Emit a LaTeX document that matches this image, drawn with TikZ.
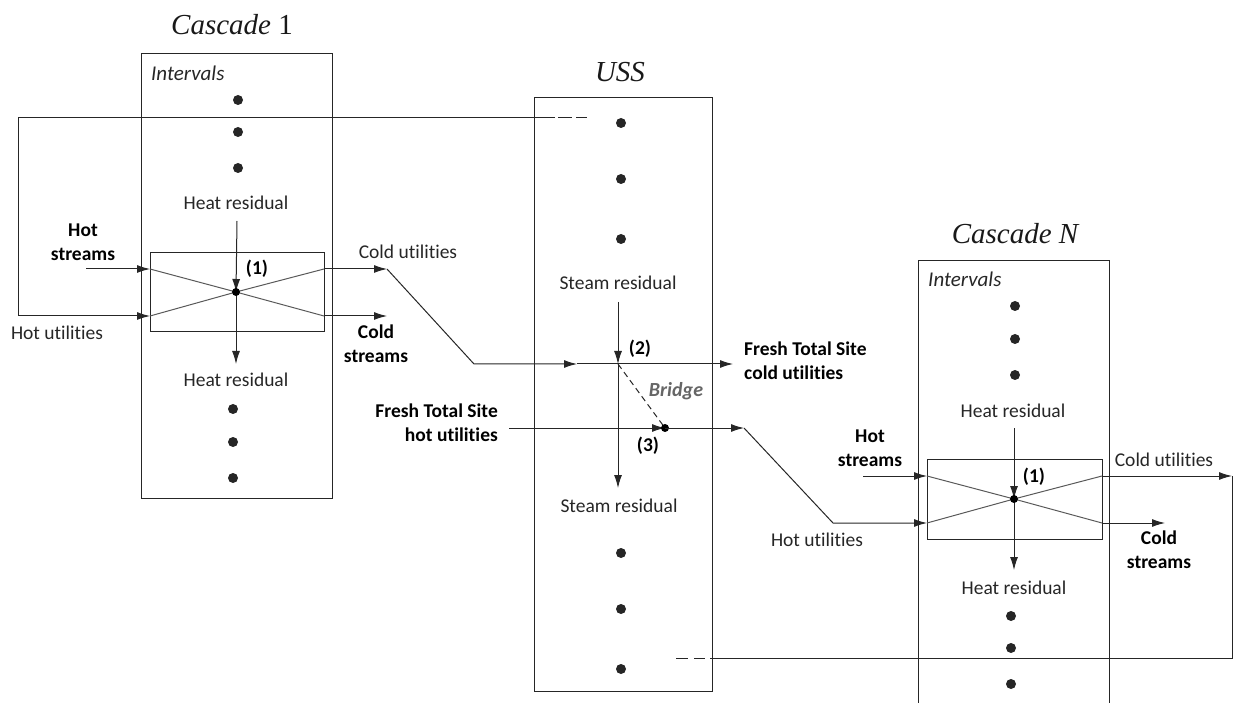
\documentclass[tikz,border=0pt]{standalone}
\usepackage{fontspec}
\setmainfont[Ligatures={NoCommon}]{Carlito}
\newfontfamily\tnr{Liberation Serif}
\usetikzlibrary{arrows.meta}
\begin{document}
\begin{tikzpicture}[x=1pt,y=-1pt,
  line/.style={draw=black!85, line width=1pt},
  diag/.style={draw=black!65, line width=1pt},
  arr/.style={line, -{Latex[length=13pt,width=8pt]}},
  lbl/.style={inner sep=0pt, text=black!85, font=\fontsize{19.5}{24}\selectfont},
  blbl/.style={inner sep=0pt, text=black, align=center, font=\fontsize{19.5}{24}\selectfont\bfseries},
  ilbl/.style={inner sep=0pt, text=black!85, font=\fontsize{21}{24}\selectfont\itshape},
  ttl/.style={inner sep=0pt, text=black!90, font=\fontsize{29}{32}\selectfont\tnr},
  dot/.style={fill=black!85},
  dsh/.style={line, dash pattern=on 0pt off 3pt on 14pt off 4pt on 11pt off 20pt}
]
\useasboundingbox (0,0) rectangle (1235,703);

% ---------- Cascade 1 ----------
\node[ttl] (t1) at (232,25) {\itshape Cascade\/ \upshape 1};
\draw[line] (141,54) rectangle (332,498);
\draw[line] (150,253) rectangle (324,332);
\node[ilbl, anchor=west] (iv1) at (151,73) {Intervals};
\foreach \y in {100,132,168} \fill[dot] (238,\y) circle (5pt);
\foreach \y in {409,442,478} \fill[dot] (233,\y) circle (5pt);
\node[lbl] (hr1a) at (236,203) {Heat residual};
\node[lbl] (hr1b) at (236,380) {Heat residual};
\coordinate (c1) at (236,292);
\coordinate (c1tl) at (150,269);
\coordinate (c1bl) at (150,316);
\coordinate (c1tr) at (324,269);
\coordinate (c1br) at (324,316);
\draw[diag] (c1tl) -- (c1) -- (c1br);
\draw[diag] (c1bl) -- (c1) -- (c1tr);
\coordinate (hr1top) at (237,221);
\coordinate (hr1bot) at (236,364);
\draw[arr] (hr1top) -- (c1);
\draw[arr] (c1) -- (hr1bot);
\fill[black] (c1) circle (4pt);
\node[blbl] (one1) at (257,269) {(1)};
\coordinate (hs1) at (86,269);
\draw[arr] (hs1) -- (c1tl);
\node[blbl] (hs1l) at (83,242) {Hot\\streams};
\coordinate (hu1a) at (18,118);
\coordinate (hu1b) at (18,316);
\coordinate (topd1) at (555,118);
\coordinate (topd2) at (587,118);
\draw[line] (topd1) -- (hu1a) -- (hu1b);
\draw[arr] (hu1b) -- (c1bl);
\draw[dsh] (topd1) -- (topd2);
\node[lbl] (hu1l) at (57,333) {Hot utilities};
\coordinate (cu1) at (387,269);
\draw[arr] (c1tr) -- (cu1);
\node[lbl] (cu1l) at (408,252) {Cold utilities};
\coordinate (cs1) at (387,316);
\draw[arr] (c1br) -- (cs1);
\node[blbl] (cs1l) at (376,344) {Cold\\streams};

% ---------- USS ----------
\node[ttl] (tu) at (620,72) {\itshape USS};
\draw[line] (534,98) rectangle (712,691);
\foreach \y in {123,179,239} \fill[dot] (621,\y) circle (5pt);
\foreach \y in {553,609,669} \fill[dot] (621,\y) circle (5pt);
\node[lbl] (sr1) at (618,283) {Steam residual};
\node[lbl] (sr2) at (619,506) {Steam residual};
\coordinate (n2) at (618,364);
\coordinate (n3) at (665,428);
\coordinate (srtop) at (618,302);
\coordinate (srbot) at (618,488);
\draw[arr] (srtop) -- (n2);
\draw[arr] (n2) -- (srbot);
\coordinate (e1) at (474,364);
\coordinate (e2) at (577,364);
\draw[arr] (cu1) -- (e1) -- (e2);
\draw[line] (e2) -- (n2);
\coordinate (ftc) at (733,364);
\draw[arr] (n2) -- (ftc);
\node[blbl, anchor=west, align=left] (ftcl) at (744,361) {Fresh Total Site\\cold utilities};
\node[blbl] (two) at (640,349) {(2)};
\draw[line, dash pattern=on 6pt off 4pt] (n2) -- (n3);
\node[inner sep=0pt, text=black!60, font=\fontsize{20}{24}\selectfont\bfseries\itshape] (br) at (676,391) {Bridge};
\coordinate (fth) at (509,428);
\draw[arr] (fth) -- (n3);
\fill[black] (n3) circle (4pt);
\node[blbl, anchor=east, align=right] (fthl) at (498,423) {Fresh Total Site\\hot utilities};
\node[blbl] (three) at (648,446) {(3)};
\coordinate (h1) at (744,428);
\draw[arr] (n3) -- (h1);

% ---------- Cascade N ----------
\node[ttl] (tn) at (1015,234) {\itshape Cascade N};
\draw[line] (918,703) -- (918,261) -- (1109,261) -- (1109,703);
\draw[line] (927,459) rectangle (1102,539);
\node[ilbl, anchor=west] (ivn) at (928,279) {Intervals};
\foreach \y in {306,339,375} \fill[dot] (1015,\y) circle (5pt);
\foreach \y in {616,648,684} \fill[dot] (1011,\y) circle (5pt);
\node[lbl] (hrna) at (1013,411) {Heat residual};
\node[lbl] (hrnb) at (1014,588) {Heat residual};
\coordinate (cn) at (1014,499);
\coordinate (cntl) at (927,476);
\coordinate (cnbl) at (927,523);
\coordinate (cntr) at (1102,476);
\coordinate (cnbr) at (1102,523);
\draw[diag] (cntl) -- (cn) -- (cnbr);
\draw[diag] (cnbl) -- (cn) -- (cntr);
\coordinate (hrntop) at (1014,428);
\coordinate (hrnbot) at (1014,570);
\draw[arr] (hrntop) -- (cn);
\draw[arr] (cn) -- (hrnbot);
\fill[black] (cn) circle (4pt);
\node[blbl] (onen) at (1034,477) {(1)};
\coordinate (hsn) at (863,476);
\draw[arr] (hsn) -- (cntl);
\node[blbl] (hsnl) at (870,448) {Hot\\streams};
\coordinate (e3) at (833,523);
\draw[arr] (h1) -- (e3) -- (cnbl);
\node[lbl] (hunl) at (817,540) {Hot utilities};
\coordinate (cun) at (1232,476);
\draw[arr] (cntr) -- (cun);
\node[lbl] (cunl) at (1164,460) {Cold utilities};
\coordinate (csn) at (1165,523);
\draw[arr] (cnbr) -- (csn);
\node[blbl] (csnl) at (1159,550) {Cold\\streams};
\coordinate (b1) at (1232,658);
\coordinate (b2) at (710,658);
\coordinate (b3) at (676,658);
\draw[line] (cun) -- (b1) -- (b2);
\draw[line, dash pattern=on 12pt off 6pt on 11pt off 10pt] (b3) -- (b2);
\end{tikzpicture}
\end{document}
